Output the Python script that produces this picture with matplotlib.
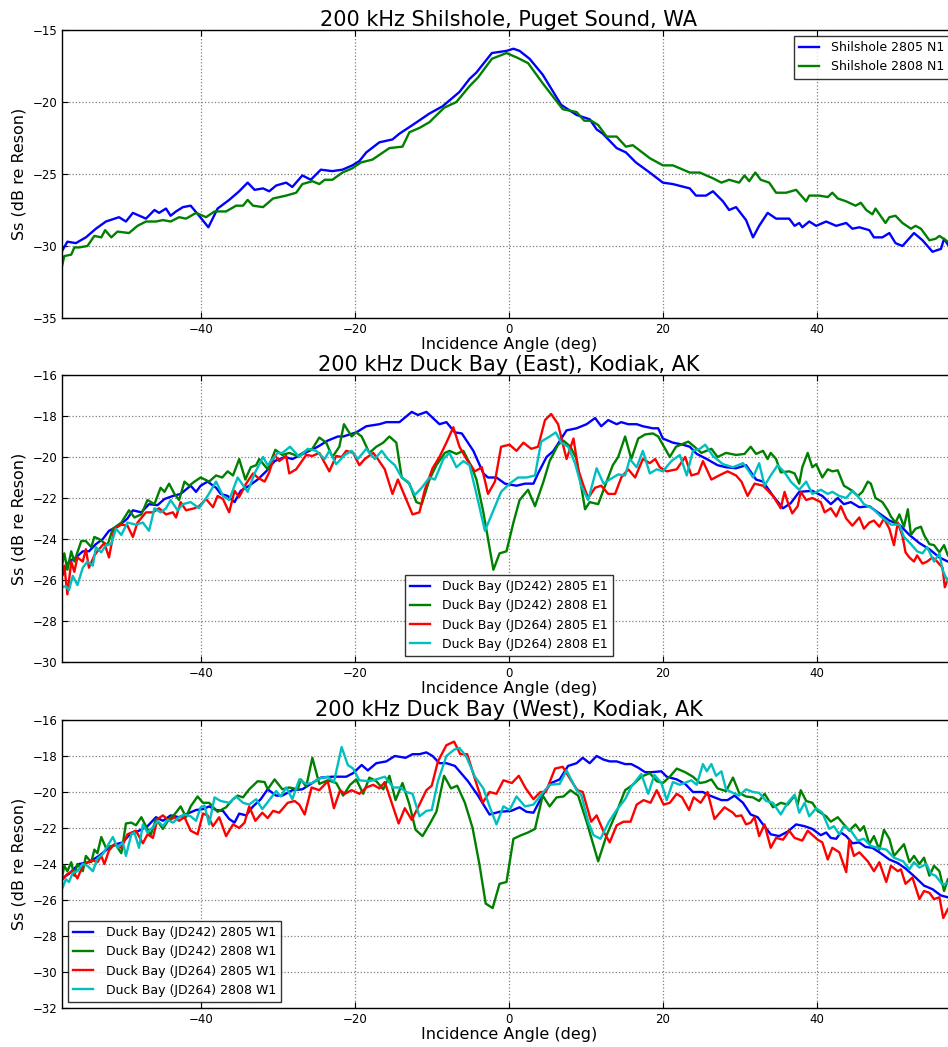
import matplotlib
matplotlib.use('Agg')
import matplotlib.pyplot as plt

# --- Shilshole (top panel) ---
shil_2805_ang = [-58.0, -57.3, -56.2, -54.9, -53.6, -52.3, -50.6, -49.7, -48.8, -47.1,
                 -46.0, -45.4, -44.5, -43.9, -43.2, -42.3, -41.3, -40.2, -39.0, -37.8,
                 -36.3, -35.0, -33.9, -33.0, -31.9, -31.1, -30.2, -28.9, -28.1, -26.8,
                 -25.7, -24.4, -22.9, -21.6, -20.3, -19.4, -18.5, -16.8, -15.1, -14.2,
                 -12.5, -10.3, -8.6, -6.4, -5.1, -4.2, -2.2, -0.3, 0.6, 1.4,
                 2.7, 4.4, 6.8, 8.8, 10.5, 11.4, 12.2, 14.0, 15.2, 16.5,
                 18.3, 20.0, 21.3, 23.5, 24.3, 25.6, 26.5, 27.8, 28.6, 29.5,
                 30.8, 31.7, 32.5, 33.6, 34.7, 36.4, 37.1, 37.7, 38.1, 39.0,
                 39.9, 41.2, 42.5, 43.8, 44.6, 45.5, 46.8, 47.4, 48.5, 49.4,
                 50.2, 51.1, 52.6, 53.7, 55.0, 56.1, 56.5, 57.0]
shil_2805_ss = [-30.35, -29.7, -29.8, -29.4, -28.8, -28.3, -28.0, -28.3, -27.7, -28.1,
                -27.5, -27.7, -27.4, -27.9, -27.6, -27.3, -27.2, -27.9, -28.7, -27.4,
                -26.8, -26.2, -25.6, -26.1, -26.0, -26.2, -25.8, -25.6, -25.9, -25.1,
                -25.4, -24.7, -24.8, -24.7, -24.4, -24.1, -23.5, -22.8, -22.6, -22.2,
                -21.6, -20.8, -20.3, -19.3, -18.4, -17.95, -16.6, -16.45, -16.3, -16.45,
                -17.0, -18.1, -20.2, -20.9, -21.2, -21.9, -22.2, -23.2, -23.5, -24.2,
                -24.9, -25.6, -25.7, -26.0, -26.5, -26.5, -26.2, -26.9, -27.5, -27.3,
                -28.2, -29.4, -28.6, -27.7, -28.1, -28.1, -28.6, -28.4, -28.7, -28.3,
                -28.6, -28.3, -28.6, -28.4, -28.8, -28.7, -28.9, -29.4, -29.4, -29.1,
                -29.8, -30.0, -29.1, -29.6, -30.4, -30.2, -29.5, -29.9]

shil_2808_ang = [-58.0, -57.7, -56.8, -56.4, -55.8, -54.7, -53.8, -52.9, -52.4, -51.6,
                 -50.8, -49.3, -48.2, -47.1, -45.8, -44.9, -43.9, -42.8, -41.9, -40.6,
                 -39.3, -38.2, -36.7, -35.4, -34.5, -33.9, -33.2, -31.9, -30.6, -28.9,
                 -27.6, -26.8, -25.5, -24.6, -23.9, -22.9, -21.6, -20.3, -19.2, -17.7,
                 -15.5, -13.8, -12.9, -11.6, -10.3, -8.4, -6.8, -5.1, -4.0, -2.2,
                 -0.3, 1.0, 2.5, 4.4, 7.0, 8.8, 9.8, 10.7, 11.6, 12.7,
                 14.0, 15.2, 16.1, 18.3, 20.0, 21.3, 23.5, 24.8, 26.5, 27.6,
                 28.6, 29.9, 30.6, 31.2, 32.0, 32.7, 33.8, 34.7, 36.0, 37.3,
                 38.6, 39.0, 40.3, 41.4, 42.0, 42.7, 43.8, 45.0, 45.7, 46.4,
                 47.2, 47.6, 48.9, 49.4, 50.2, 51.1, 52.2, 52.8, 53.5, 54.6,
                 55.4, 55.9, 57.0]
shil_2808_ss = [-31.4, -30.7, -30.6, -30.1, -30.1, -30.0, -29.3, -29.4, -28.9, -29.4,
                -29.0, -29.1, -28.6, -28.3, -28.3, -28.2, -28.3, -28.0, -28.1, -27.7,
                -28.0, -27.6, -27.6, -27.2, -27.2, -26.8, -27.2, -27.3, -26.7, -26.5,
                -26.3, -25.7, -25.5, -25.7, -25.4, -25.4, -24.9, -24.6, -24.2, -24.0,
                -23.2, -23.1, -22.1, -21.8, -21.4, -20.4, -20.0, -18.9, -18.3, -17.0,
                -16.6, -16.9, -17.3, -18.7, -20.5, -20.7, -21.3, -21.3, -21.6, -22.4,
                -22.4, -23.1, -23.0, -23.9, -24.4, -24.4, -24.9, -24.9, -25.3, -25.6,
                -25.4, -25.6, -25.1, -25.5, -24.9, -25.4, -25.6, -26.3, -26.3, -26.1,
                -26.9, -26.5, -26.5, -26.6, -26.3, -26.7, -26.9, -27.2, -27.0, -27.5,
                -27.8, -27.4, -28.4, -28.0, -27.9, -28.4, -28.8, -28.6, -28.8, -29.6,
                -29.5, -29.3, -29.7]

# --- Duck Bay East (middle panel) ---
east_242_2805_ang = [-58.0, -57.1, -56.2, -55.3, -54.5, -53.6, -52.7, -51.9, -50.6, -49.5,
                     -48.8, -47.7, -46.7, -45.6, -44.7, -43.6, -42.6, -41.3, -40.6, -40.0,
                     -39.1, -38.0, -37.4, -36.5, -35.6, -34.8, -33.7, -32.6, -31.5, -30.4,
                     -29.1, -28.1, -27.0, -25.9, -24.8, -23.5, -22.2, -21.5, -19.8, -18.5,
                     -16.8, -15.9, -14.2, -12.6, -11.8, -10.7, -9.0, -8.1, -7.0, -6.1,
                     -4.6, -3.3, -2.7, -1.6, -0.5, 1.0, 2.1, 3.2, 3.8, 4.9,
                     5.8, 7.5, 8.8, 10.1, 11.2, 12.0, 12.9, 14.0, 14.6, 15.5,
                     16.6, 17.4, 18.7, 19.4, 20.0, 21.3, 22.6, 23.5, 24.4, 25.7,
                     27.1, 28.2, 29.5, 30.8, 32.1, 33.0, 34.3, 35.6, 36.6, 37.7,
                     39.4, 40.7, 41.8, 42.7, 43.5, 44.4, 45.5, 46.8, 47.9, 49.4,
                     50.7, 52.0, 53.3, 54.6, 55.9, 57.0]
east_242_2805_ss = [-25.8, -25.1, -24.9, -24.6, -24.6, -24.25, -24.0, -23.6, -23.35, -23.0,
                    -22.6, -22.7, -22.3, -22.35, -22.05, -21.9, -21.8, -21.4, -21.7, -21.4,
                    -21.2, -21.5, -21.8, -21.9, -22.2, -21.65, -21.4, -21.1, -20.7, -20.2,
                    -20.0, -20.1, -19.9, -19.7, -19.5, -19.2, -19.0, -19.0, -18.8, -18.5,
                    -18.4, -18.3, -18.3, -17.8, -17.95, -17.8, -18.4, -18.3, -18.8, -18.85,
                    -19.7, -20.8, -21.0, -21.0, -21.3, -21.4, -21.3, -21.3, -20.8, -20.0,
                    -19.7, -18.7, -18.6, -18.4, -18.1, -18.5, -18.2, -18.4, -18.3, -18.4,
                    -18.4, -18.5, -18.6, -18.6, -19.1, -19.3, -19.4, -19.5, -19.85, -20.1,
                    -20.4, -20.5, -20.55, -20.4, -21.1, -21.2, -21.9, -22.5, -22.25, -21.7,
                    -21.65, -21.9, -22.3, -22.0, -22.3, -22.2, -22.45, -22.4, -22.7, -23.1,
                    -23.3, -23.8, -24.2, -24.5, -24.9, -25.1]

east_242_2808_ang = [-58.0, -57.7, -57.3, -56.8, -56.4, -55.5, -54.9, -54.2, -53.8, -53.2,
                     -52.1, -51.4, -50.3, -49.3, -48.6, -47.7, -46.9, -46.0, -45.2, -44.7,
                     -44.1, -43.4, -42.8, -42.1, -41.5, -40.8, -40.0, -38.9, -38.0, -37.2,
                     -36.5, -35.8, -35.0, -34.2, -33.5, -32.8, -32.4, -31.3, -30.3, -29.4,
                     -28.5, -27.4, -26.3, -25.5, -24.6, -23.7, -22.9, -22.0, -21.4, -20.4,
                     -19.8, -19.1, -18.1, -17.2, -16.3, -15.5, -14.6, -13.9, -12.9, -12.0,
                     -11.3, -10.3, -9.4, -8.3, -7.7, -6.8, -5.9, -4.8, -4.2, -3.3,
                     -2.7, -2.0, -1.2, -0.3, 0.6, 1.4, 2.5, 3.4, 4.5, 5.3,
                     6.4, 7.1, 8.0, 8.8, 9.9, 10.5, 11.6, 12.5, 13.5, 14.2,
                     15.1, 15.9, 16.8, 17.7, 18.7, 19.4, 20.0, 20.9, 21.7, 23.3,
                     24.1, 25.0, 26.3, 27.1, 28.2, 29.5, 30.6, 31.4, 32.1, 33.0,
                     33.6, 34.0, 34.7, 35.3, 36.4, 37.1, 37.7, 38.1, 38.8, 39.4,
                     39.9, 40.7, 41.4, 42.0, 42.7, 43.5, 44.6, 45.3, 45.9, 46.6,
                     47.0, 47.6, 48.5, 49.2, 49.6, 50.2, 50.7, 51.3, 51.8, 52.2,
                     52.8, 53.5, 53.9, 54.6, 55.2, 55.9, 56.5, 57.0]
east_242_2808_ss = [-25.3, -24.7, -25.5, -24.6, -25.1, -24.1, -24.1, -24.4, -23.9, -24.0,
                    -24.3, -23.5, -23.2, -22.6, -22.95, -22.8, -22.1, -22.3, -21.5, -21.7,
                    -21.3, -21.8, -22.1, -21.2, -21.4, -21.2, -21.0, -21.2, -20.9, -21.0,
                    -20.7, -20.9, -20.1, -21.1, -20.5, -20.4, -20.1, -20.6, -19.65, -19.9,
                    -19.8, -19.95, -19.7, -19.6, -19.05, -19.3, -20.0, -19.5, -18.4, -19.0,
                    -18.8, -19.0, -19.8, -19.5, -19.3, -19.0, -19.3, -21.0, -21.3, -22.2,
                    -22.3, -21.1, -20.4, -19.8, -19.7, -19.85, -19.7, -20.5, -21.1, -22.7,
                    -24.0, -25.5, -24.7, -24.6, -23.2, -22.1, -21.6, -22.4, -21.2, -20.2,
                    -19.4, -19.2, -19.5, -20.1, -22.55, -22.2, -22.3, -21.4, -20.4, -20.0,
                    -19.0, -20.1, -19.1, -18.9, -18.85, -19.0, -19.4, -20.0, -19.5, -19.25,
                    -19.5, -19.8, -19.6, -20.0, -19.8, -19.9, -19.85, -19.5, -19.85, -19.7,
                    -20.1, -19.8, -20.1, -20.75, -20.7, -20.8, -21.3, -20.5, -19.8, -20.5,
                    -20.35, -21.0, -20.6, -20.7, -20.65, -21.4, -21.65, -21.9, -21.7, -21.2,
                    -21.3, -22.0, -22.2, -22.6, -22.9, -23.2, -22.8, -23.4, -22.55, -23.8,
                    -23.5, -23.4, -23.8, -24.25, -24.3, -24.65, -24.3, -24.8]

east_264_2805_ang = [-58.0, -57.7, -57.3, -56.8, -56.4, -56.0, -55.3, -54.9, -54.5, -53.8,
                     -53.2, -52.5, -51.9, -51.2, -50.3, -49.5, -48.8, -48.2, -47.1, -46.2,
                     -45.4, -44.5, -43.6, -43.2, -42.6, -41.9, -40.8, -40.2, -39.3, -38.4,
                     -37.8, -37.1, -36.3, -35.6, -35.0, -34.1, -33.2, -32.6, -31.7, -31.1,
                     -30.4, -29.8, -28.9, -28.5, -27.6, -26.3, -25.5, -24.6, -23.3, -22.4,
                     -21.7, -21.1, -20.2, -19.4, -18.7, -17.6, -17.0, -16.1, -15.1, -14.4,
                     -13.4, -12.5, -11.6, -10.9, -9.9, -9.0, -8.1, -7.2, -6.4, -5.5,
                     -4.4, -3.5, -2.7, -1.8, -1.0, 0.1, 1.0, 1.9, 2.9, 3.8,
                     4.7, 5.5, 6.4, 7.1, 7.5, 8.4, 9.0, 9.7, 10.3, 11.2,
                     12.0, 12.9, 13.8, 14.6, 15.5, 16.4, 17.4, 18.3, 19.0, 19.6,
                     20.5, 21.8, 22.9, 23.7, 24.6, 25.2, 26.3, 27.3, 28.4, 29.5,
                     30.2, 31.0, 31.9, 33.0, 34.3, 35.3, 35.8, 36.2, 36.8, 37.5,
                     37.9, 38.6, 39.4, 40.5, 41.0, 41.8, 42.5, 43.1, 43.8, 44.6,
                     45.5, 46.1, 46.8, 47.4, 48.1, 48.7, 49.4, 50.0, 50.5, 51.1,
                     51.5, 52.0, 52.6, 53.0, 53.7, 54.3, 55.0, 55.6, 56.3, 56.6,
                     57.0]
east_264_2805_ss = [-25.8, -25.3, -26.7, -25.1, -25.6, -24.9, -25.1, -24.5, -25.4, -24.8,
                    -24.5, -24.2, -24.9, -23.5, -23.3, -23.35, -23.9, -23.2, -22.7, -22.7,
                    -22.5, -22.8, -22.7, -22.95, -22.2, -22.6, -22.5, -22.4, -22.05, -22.45,
                    -21.9, -22.05, -22.7, -21.65, -21.95, -21.3, -20.8, -21.0, -21.2, -20.75,
                    -19.9, -20.2, -19.95, -20.8, -20.6, -19.9, -19.95, -19.8, -20.7, -19.95,
                    -20.0, -19.7, -19.8, -20.4, -20.1, -19.8, -20.1, -20.6, -21.8, -21.1,
                    -22.0, -22.8, -22.7, -21.6, -20.55, -20.0, -19.3, -18.55, -19.5, -20.1,
                    -20.7, -20.5, -21.8, -21.2, -19.5, -19.4, -19.7, -19.3, -19.6, -19.5,
                    -18.2, -17.9, -18.4, -19.5, -20.1, -19.1, -20.6, -21.4, -22.0, -21.5,
                    -21.4, -21.8, -21.8, -21.0, -20.6, -21.0, -20.1, -20.3, -20.1, -20.5,
                    -20.7, -20.6, -20.0, -20.9, -20.8, -20.2, -21.1, -20.9, -20.7, -20.9,
                    -21.2, -21.9, -21.3, -21.4, -21.9, -22.5, -21.7, -22.2, -22.75, -22.4,
                    -21.7, -22.1, -22.0, -22.2, -22.7, -22.5, -22.9, -22.4, -23.0, -23.35,
                    -22.95, -23.5, -23.2, -23.1, -23.4, -23.0, -23.5, -24.3, -23.2, -23.85,
                    -24.65, -24.9, -25.1, -24.8, -25.2, -25.1, -24.9, -25.1, -25.4, -26.35,
                    -25.95]

east_264_2808_ang = [-58.0, -57.5, -57.1, -56.6, -56.0, -55.3, -54.7, -54.0, -53.6, -52.9,
                     -52.3, -51.6, -51.0, -50.3, -49.5, -48.4, -47.5, -46.7, -46.0, -45.2,
                     -44.5, -43.9, -43.0, -42.3, -41.3, -40.2, -39.1, -38.0, -37.1, -36.3,
                     -35.2, -33.9, -33.0, -31.9, -31.3, -30.0, -29.4, -28.4, -27.2, -26.1,
                     -25.0, -23.9, -23.3, -22.4, -21.3, -20.4, -19.6, -18.5, -17.4, -16.5,
                     -15.7, -14.8, -13.9, -13.1, -12.2, -11.3, -10.3, -9.6, -8.5, -7.7,
                     -6.8, -5.9, -5.1, -4.2, -3.1, -2.0, -1.0, 0.1, 1.2, 2.3,
                     3.4, 4.2, 5.3, 6.1, 6.8, 7.7, 8.6, 9.4, 10.3, 11.4,
                     12.3, 13.1, 14.2, 15.1, 15.7, 16.6, 17.4, 18.3, 19.2, 20.0,
                     21.1, 22.2, 23.1, 23.9, 24.8, 25.5, 26.5, 27.8, 29.1, 30.4,
                     31.0, 31.7, 32.5, 33.2, 34.0, 34.9, 35.8, 36.6, 37.7, 38.6,
                     39.4, 40.5, 41.4, 42.0, 42.9, 43.8, 44.6, 45.3, 46.1, 47.2,
                     48.3, 49.6, 50.7, 51.3, 52.2, 53.0, 53.7, 54.3, 55.2, 55.9,
                     56.3, 57.0]
east_264_2808_ss = [-26.35, -26.3, -26.5, -25.8, -26.25, -25.4, -25.1, -25.3, -24.4, -24.65,
                    -24.3, -24.25, -23.5, -23.8, -23.2, -23.3, -23.2, -23.6, -22.5, -22.7,
                    -22.5, -22.1, -22.6, -22.3, -22.2, -22.5, -21.9, -21.2, -21.9, -22.1,
                    -21.0, -21.7, -20.8, -20.0, -20.4, -19.8, -19.8, -19.5, -20.0, -19.6,
                    -19.7, -20.1, -19.7, -20.35, -19.9, -19.7, -20.1, -19.6, -20.1, -19.7,
                    -20.1, -20.4, -21.0, -21.2, -21.85, -21.5, -21.0, -21.1, -20.1, -19.8,
                    -20.5, -20.2, -20.4, -21.8, -23.6, -22.6, -21.7, -21.3, -21.0, -21.0,
                    -20.9, -19.25, -19.0, -18.8, -19.3, -19.5, -20.3, -21.4, -22.1, -20.55,
                    -21.3, -21.1, -20.85, -20.9, -20.1, -20.5, -19.7, -20.8, -20.6, -20.7,
                    -20.2, -19.9, -20.9, -19.7, -19.6, -19.4, -19.95, -20.35, -20.5, -20.3,
                    -20.6, -21.0, -20.3, -21.4, -20.9, -20.4, -20.75, -21.2, -21.6, -21.2,
                    -21.8, -21.6, -21.8, -21.7, -21.9, -22.0, -21.65, -21.9, -22.3, -22.5,
                    -22.9, -23.3, -23.3, -23.9, -24.25, -24.6, -24.7, -24.4, -25.1, -24.7,
                    -25.5, -26.1]

# --- Duck Bay West (bottom panel) ---
west_242_2805_ang = [-58.0, -57.1, -55.8, -54.5, -53.2, -51.9, -51.0, -50.1, -49.3, -48.0,
                     -46.9, -45.8, -44.9, -43.9, -42.8, -41.7, -40.6, -39.7, -38.9, -38.0,
                     -37.1, -36.3, -35.6, -35.0, -34.1, -33.2, -32.2, -31.3, -30.2, -29.4,
                     -28.1, -26.8, -25.5, -24.4, -22.9, -21.1, -20.2, -19.1, -18.3, -17.2,
                     -15.9, -14.8, -13.4, -12.5, -11.6, -10.7, -9.9, -9.0, -8.1, -7.0,
                     -5.3, -4.0, -2.5, -1.2, 0.3, 1.4, 2.3, 3.2, 4.5, 5.5,
                     6.6, 7.7, 8.8, 9.6, 10.5, 11.4, 12.3, 13.1, 14.0, 15.1,
                     15.9, 16.8, 17.7, 18.5, 19.8, 20.5, 21.8, 22.9, 23.9, 25.2,
                     26.1, 27.6, 28.4, 29.3, 30.4, 31.4, 32.3, 33.0, 34.0, 35.1,
                     36.2, 37.3, 38.4, 39.4, 40.5, 41.2, 41.8, 42.5, 43.1, 43.8,
                     44.6, 45.5, 46.3, 47.2, 48.1, 49.4, 50.5, 51.5, 52.8, 53.9,
                     55.0, 56.1, 57.0]
west_242_2805_ss = [-24.8, -24.55, -24.0, -23.9, -23.55, -23.1, -22.9, -22.8, -22.4, -22.15,
                    -21.9, -21.4, -21.6, -21.3, -21.4, -21.2, -21.0, -20.95, -20.8, -21.0,
                    -21.05, -21.5, -21.7, -21.2, -21.3, -20.8, -20.4, -19.85, -20.2, -20.2,
                    -19.9, -19.85, -19.5, -19.2, -19.15, -19.15, -18.95, -18.5, -18.8, -18.4,
                    -18.3, -18.0, -18.1, -17.9, -17.9, -17.8, -18.0, -18.4, -18.4, -18.55,
                    -19.4, -20.2, -21.25, -21.1, -21.05, -20.85, -21.1, -21.15, -20.1, -19.5,
                    -19.3, -18.55, -18.4, -18.1, -18.4, -18.0, -18.2, -18.3, -18.3, -18.45,
                    -18.45, -18.65, -18.9, -18.9, -18.85, -19.15, -19.3, -19.55, -20.0, -20.0,
                    -20.2, -20.45, -20.45, -20.2, -20.6, -21.25, -21.4, -21.8, -22.35, -22.45,
                    -22.2, -21.8, -21.9, -22.05, -22.4, -22.25, -22.55, -22.6, -22.25, -22.45,
                    -22.85, -22.8, -23.05, -23.1, -23.35, -23.75, -23.95, -24.25, -24.75, -25.2,
                    -25.4, -25.75, -25.85]

west_242_2808_ang = [-58.0, -57.7, -57.3, -56.8, -56.4, -56.0, -55.3, -54.9, -54.2, -53.8,
                     -53.4, -52.9, -52.3, -51.6, -51.0, -50.3, -49.7, -49.0, -48.4, -47.7,
                     -47.1, -46.5, -45.8, -44.9, -44.1, -43.4, -42.6, -41.9, -41.3, -40.4,
                     -39.7, -38.9, -37.8, -36.7, -35.8, -35.2, -34.5, -33.7, -32.6, -31.7,
                     -31.3, -30.4, -29.4, -28.5, -27.4, -27.0, -26.3, -25.5, -24.6, -23.5,
                     -22.4, -21.5, -20.6, -19.8, -18.9, -18.1, -17.2, -16.3, -15.5, -14.7,
                     -13.8, -12.9, -12.1, -11.2, -10.3, -9.4, -8.4, -7.5, -6.7, -5.7,
                     -4.7, -3.8, -3.0, -2.1, -1.2, -0.3, 0.6, 1.6, 2.5, 3.4,
                     4.4, 5.3, 6.2, 7.1, 8.0, 9.0, 10.1, 11.6, 12.7, 14.0,
                     15.1, 16.1, 17.2, 18.3, 19.2, 20.0, 20.9, 21.8, 22.9, 23.9,
                     24.8, 25.5, 26.3, 27.1, 28.2, 29.1, 29.9, 30.8, 31.7, 32.5,
                     33.2, 34.3, 35.3, 36.2, 37.1, 37.5, 37.9, 38.6, 39.4, 40.1,
                     41.2, 41.8, 42.7, 43.3, 44.2, 45.0, 45.6, 46.1, 46.8, 47.4,
                     48.1, 48.7, 49.4, 50.0, 50.7, 51.3, 52.0, 52.6, 53.3, 53.9,
                     54.6, 55.2, 55.9, 56.5, 57.0]
west_242_2808_ss = [-24.75, -24.1, -24.4, -23.9, -24.65, -24.0, -24.4, -23.55, -23.9, -23.2,
                    -23.4, -22.5, -23.1, -23.0, -22.95, -23.4, -21.75, -21.7, -21.85, -21.4,
                    -21.9, -22.4, -21.5, -22.05, -21.5, -21.25, -20.8, -21.4, -20.8, -20.25,
                    -20.6, -20.6, -21.1, -20.85, -20.4, -20.2, -20.3, -19.85, -19.4, -19.45,
                    -19.85, -19.3, -19.85, -19.75, -19.85, -19.3, -19.7, -18.1, -19.55, -19.35,
                    -19.5, -20.2, -19.6, -19.3, -20.1, -19.2, -19.4, -19.85, -19.1, -20.45,
                    -19.5, -20.7, -22.1, -22.45, -21.8, -21.1, -19.1, -19.8, -19.65, -20.6,
                    -22.0, -24.05, -26.2, -26.45, -25.1, -25.0, -22.6, -22.4, -22.25, -22.05,
                    -20.2, -20.8, -20.3, -20.25, -19.9, -20.2, -21.65, -23.85, -22.4, -21.1,
                    -19.9, -19.6, -19.15, -18.95, -19.4, -19.5, -19.15, -18.7, -18.9, -19.15,
                    -19.5, -19.45, -19.3, -19.8, -19.95, -19.2, -20.05, -20.25, -20.3, -20.5,
                    -20.1, -20.85, -20.6, -20.7, -20.2, -20.7, -19.9, -20.5, -20.6, -21.05,
                    -21.35, -21.65, -21.4, -21.7, -22.15, -21.8, -22.15, -21.9, -22.9, -22.45,
                    -23.2, -22.1, -22.6, -23.55, -23.2, -22.9, -23.9, -23.55, -24.0, -23.65,
                    -24.65, -24.1, -24.4, -25.5, -24.85]

west_264_2805_ang = [-58.0, -57.3, -56.6, -56.0, -55.3, -54.7, -54.0, -53.4, -52.9, -52.5,
                     -51.9, -51.2, -50.3, -49.5, -48.4, -47.5, -46.9, -46.2, -45.6, -44.9,
                     -44.1, -43.4, -42.8, -42.1, -41.3, -40.4, -39.7, -39.1, -38.4, -37.6,
                     -36.7, -35.8, -35.0, -34.3, -33.7, -32.9, -32.0, -31.3, -30.6, -29.8,
                     -28.7, -27.8, -27.2, -26.5, -25.6, -24.6, -23.5, -22.7, -21.9, -21.3,
                     -20.4, -19.4, -18.5, -17.6, -16.8, -16.1, -15.2, -14.3, -13.5, -12.6,
                     -11.6, -10.7, -10.0, -9.2, -8.1, -7.1, -6.3, -5.4, -4.3, -3.4,
                     -2.5, -1.6, -0.7, 0.4, 1.3, 2.2, 3.2, 4.1, 4.8, 6.0,
                     7.0, 8.0, 8.9, 9.6, 10.7, 11.4, 12.3, 13.1, 14.0, 14.9,
                     15.8, 16.6, 17.5, 18.4, 19.2, 20.1, 20.9, 21.8, 22.5, 23.4,
                     24.0, 24.9, 25.8, 26.7, 28.0, 29.1, 29.5, 30.2, 30.8, 31.4,
                     31.9, 32.5, 33.2, 34.0, 34.7, 35.6, 36.4, 37.1, 38.1, 38.8,
                     40.1, 40.7, 41.4, 42.0, 42.9, 43.8, 44.2, 44.8, 45.5, 46.6,
                     47.4, 48.1, 49.0, 49.6, 50.5, 50.9, 51.5, 52.4, 53.3, 53.9,
                     54.6, 55.2, 55.9, 56.4, 57.0]
west_264_2805_ss = [-24.9, -24.55, -24.4, -24.8, -24.1, -23.9, -23.8, -23.9, -23.55, -24.0,
                    -23.25, -22.9, -23.1, -22.35, -22.15, -22.85, -22.35, -22.55, -21.5, -21.3,
                    -21.6, -21.4, -21.6, -21.4, -22.15, -22.35, -21.2, -21.3, -21.9, -21.4,
                    -22.45, -21.8, -22.0, -21.7, -20.8, -21.6, -21.15, -21.45, -21.05, -21.15,
                    -20.6, -20.5, -20.7, -21.25, -19.75, -19.9, -19.4, -20.9, -19.9, -20.1,
                    -19.9, -20.1, -19.75, -19.6, -19.8, -19.45, -20.6, -21.75, -20.9, -21.55,
                    -20.7, -19.9, -19.65, -18.3, -17.4, -17.2, -17.9, -17.9, -19.4, -20.6,
                    -20.0, -20.1, -19.35, -19.5, -19.1, -19.8, -20.4, -20.0, -20.0, -18.7,
                    -18.6, -19.3, -19.9, -20.0, -21.65, -21.3, -22.2, -22.8, -21.85, -21.65,
                    -21.65, -20.7, -20.45, -20.6, -19.9, -20.7, -20.6, -20.1, -20.3, -21.0,
                    -20.3, -20.6, -20.0, -21.5, -20.85, -21.15, -21.35, -21.3, -21.8, -21.7,
                    -21.4, -22.45, -21.8, -23.1, -22.55, -22.65, -22.15, -22.55, -22.7, -22.15,
                    -22.65, -22.8, -23.75, -23.1, -23.35, -24.45, -22.65, -23.55, -23.35, -23.85,
                    -24.4, -23.9, -25.0, -24.1, -24.4, -24.3, -25.1, -24.75, -25.95, -25.5,
                    -25.6, -25.95, -25.85, -27.0, -26.5]

west_264_2808_ang = [-58.0, -57.5, -57.1, -56.6, -56.0, -55.3, -54.7, -54.0, -53.4, -52.7,
                     -52.1, -51.4, -50.8, -50.1, -49.7, -49.0, -48.6, -48.0, -47.5, -46.9,
                     -46.2, -45.6, -44.9, -44.3, -43.6, -42.8, -42.1, -41.3, -40.6, -40.0,
                     -39.5, -38.9, -38.2, -37.4, -36.3, -35.4, -34.5, -33.7, -32.8, -32.0,
                     -31.1, -30.2, -29.6, -28.9, -28.1, -27.2, -26.3, -25.5, -24.6, -23.5,
                     -22.7, -21.7, -20.9, -20.2, -19.4, -18.1, -17.2, -16.1, -15.0, -14.1,
                     -13.3, -12.5, -11.6, -10.7, -10.0, -9.2, -8.1, -7.1, -6.4, -5.5,
                     -4.4, -3.3, -2.5, -1.6, -0.7, 0.1, 1.0, 2.1, 3.2, 4.2,
                     5.3, 6.6, 7.5, 8.8, 9.4, 10.3, 11.0, 11.9, 13.0, 14.0,
                     15.1, 15.9, 17.2, 18.1, 18.9, 19.8, 20.5, 21.3, 22.2, 23.1,
                     23.7, 24.4, 25.2, 25.7, 26.3, 26.9, 27.6, 28.2, 29.1, 29.9,
                     30.8, 31.7, 32.5, 33.4, 34.3, 35.3, 36.2, 37.1, 37.7, 38.4,
                     39.0, 39.9, 40.7, 41.6, 42.2, 42.9, 43.5, 44.4, 45.3, 46.1,
                     47.0, 47.9, 49.0, 50.0, 51.2, 52.0, 52.6, 53.3, 54.2, 54.8,
                     55.4, 56.3, 57.0]
west_264_2808_ss = [-25.4, -24.85, -25.0, -24.5, -24.4, -24.0, -24.1, -24.4, -23.7, -23.45,
                    -23.0, -22.5, -23.1, -22.8, -23.55, -22.35, -22.25, -23.1, -21.8, -22.25,
                    -21.95, -21.6, -21.9, -21.55, -21.7, -21.4, -21.25, -21.35, -21.6, -20.85,
                    -20.75, -21.8, -20.3, -20.5, -20.6, -20.25, -20.6, -20.7, -20.4, -20.95,
                    -20.45, -19.95, -20.25, -19.75, -20.4, -19.3, -19.55, -19.5, -19.25, -19.15,
                    -19.45, -17.5, -18.5, -18.7, -19.35, -19.4, -19.3, -19.15, -19.75, -19.75,
                    -20.0, -20.1, -21.35, -21.05, -21.0, -19.4, -18.0, -17.65, -17.55, -18.05,
                    -19.15, -19.8, -20.8, -21.8, -20.8, -21.0, -20.25, -20.8, -20.7, -20.15,
                    -19.6, -19.55, -18.8, -19.9, -20.15, -21.65, -22.4, -22.6, -21.65, -21.0,
                    -20.4, -19.7, -19.0, -20.1, -19.05, -19.5, -20.45, -19.45, -19.6, -19.45,
                    -19.35, -19.6, -18.45, -18.85, -18.45, -19.1, -18.85, -19.85, -20.05, -20.2,
                    -19.85, -20.0, -20.05, -20.5, -20.6, -21.25, -20.6, -20.15, -21.15, -20.6,
                    -21.35, -20.9, -21.15, -22.05, -21.9, -22.35, -21.9, -22.15, -22.7, -22.6,
                    -23.0, -23.1, -23.2, -23.65, -23.85, -24.3, -23.9, -24.2, -24.0, -24.55,
                    -24.65, -25.15, -25.05]

shil_labels = ['Shilshole 2805 N1', 'Shilshole 2808 N1']
east_labels = ['Duck Bay (JD242) 2805 E1', 'Duck Bay (JD242) 2808 E1',
               'Duck Bay (JD264) 2805 E1', 'Duck Bay (JD264) 2808 E1']
west_labels = ['Duck Bay (JD242) 2805 W1', 'Duck Bay (JD242) 2808 W1',
               'Duck Bay (JD264) 2805 W1', 'Duck Bay (JD264) 2808 W1']
colors = ['b', 'g', 'r', 'c']

W, H = 948.0, 1047.0
fig = plt.figure(figsize=(W / 100, H / 100), dpi=100)


def make_axes(top_px, bottom_px):
    # axes run a little past the right edge of the figure, as in the original
    return fig.add_axes([62 / W, 1 - bottom_px / H, (955.6 - 62) / W, (bottom_px - top_px) / H])


def style(ax, title, ylim, yticks):
    ax.set_xlim(-58, 58)
    ax.set_ylim(*ylim)
    ax.set_xticks([-40, -20, 0, 20, 40])
    ax.set_yticks(yticks)
    ax.grid(True, linestyle=':', color='#808080', linewidth=0.9)
    ax.tick_params(direction='in', labelsize=8.5, top=True, right=True, length=4)
    ax.set_title(title, fontsize=15, pad=3)
    ax.set_xlabel('Incidence Angle (deg)', fontsize=11.5, labelpad=1)
    ax.set_ylabel('Ss (dB re Reson)', fontsize=11.5, labelpad=4)
    for s in ax.spines.values():
        s.set_linewidth(1.0)


def add_legend(ax, loc):
    leg = ax.legend(loc=loc, fontsize=9, fancybox=False, edgecolor='black',
                    handlelength=1.6, handletextpad=1.0, borderaxespad=0.5)
    leg.get_frame().set_linewidth(1.0)


ax1 = make_axes(30, 318)
ax1.plot(shil_2805_ang, shil_2805_ss, color='b', lw=1.7, label=shil_labels[0])
ax1.plot(shil_2808_ang, shil_2808_ss, color='g', lw=1.7, label=shil_labels[1])
style(ax1, '200 kHz Shilshole, Puget Sound, WA', (-35, -15), range(-35, -14, 5))
add_legend(ax1, 'upper right')

ax2 = make_axes(375, 662)
east = [(east_242_2805_ang, east_242_2805_ss), (east_242_2808_ang, east_242_2808_ss),
        (east_264_2805_ang, east_264_2805_ss), (east_264_2808_ang, east_264_2808_ss)]
for (a, s), c, lab in zip(east, colors, east_labels):
    ax2.plot(a, s, color=c, lw=1.7, label=lab)
style(ax2, '200 kHz Duck Bay (East), Kodiak, AK', (-30, -16), range(-30, -15, 2))
add_legend(ax2, 'lower center')

ax3 = make_axes(720, 1008)
west = [(west_242_2805_ang, west_242_2805_ss), (west_242_2808_ang, west_242_2808_ss),
        (west_264_2805_ang, west_264_2805_ss), (west_264_2808_ang, west_264_2808_ss)]
for (a, s), c, lab in zip(west, colors, west_labels):
    ax3.plot(a, s, color=c, lw=1.7, label=lab)
style(ax3, '200 kHz Duck Bay (West), Kodiak, AK', (-32, -16), range(-32, -15, 2))
add_legend(ax3, 'lower left')

fig.savefig('out.png', dpi=100, facecolor='white')
